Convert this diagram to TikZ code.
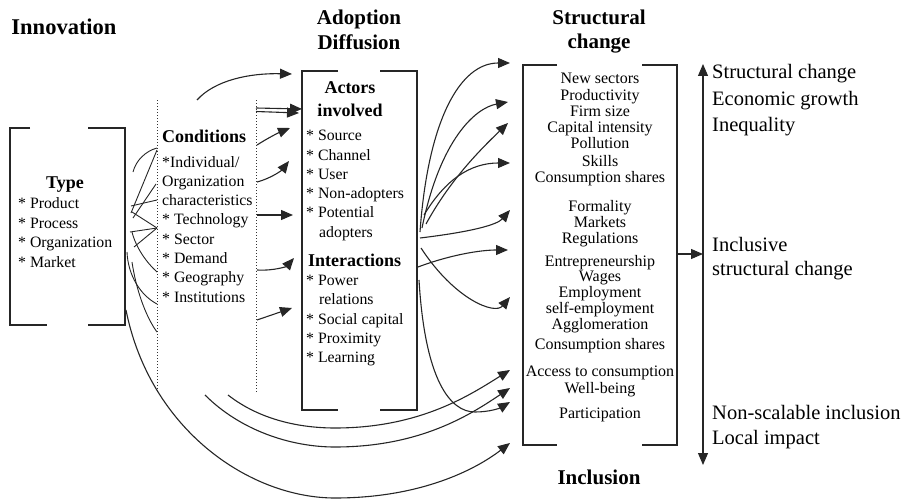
\documentclass[tikz,border=0pt]{standalone}
\usepackage{fontspec}
\setmainfont{Liberation Serif}
\usetikzlibrary{arrows.meta}
\begin{document}
\begin{tikzpicture}[x=1pt,y=-1pt,
  ink/.style={draw=black!85, line width=1.1pt},
  conn/.style={ink, -{Triangle[length=12pt,width=10pt]}},
  link/.style={draw=black!85, line width=0.9pt},
  guide/.style={draw=black!80, line width=1pt, dotted},
  head/.style={font=\fontsize{21}{24}\selectfont\bfseries, anchor=base, inner sep=0},
  sub/.style={font=\fontsize{18}{21}\selectfont\bfseries, inner sep=0},
  item/.style={font=\fontsize{15.8}{19}\selectfont, anchor=base west, inner sep=0},
  metric/.style={font=\fontsize{16}{16}\selectfont, anchor=base, inner sep=0},
  outcome/.style={font=\fontsize{20.5}{24}\selectfont, anchor=base west, inner sep=0},
]
\useasboundingbox (0,0) rectangle (908,503);

% ---------- column headings ----------
\node[head, font=\fontsize{22.5}{26}\selectfont\bfseries] (hInnov) at (64,35) {Innovation};
\node[head] (hAdopt) at (359,25) {Adoption};
\node[head] (hDiff)  at (359,50) {Diffusion};
\node[head] (hStruct) at (599,25) {Structural};
\node[head] (hChange) at (599,49) {change};
\node[head] (hIncl) at (599,484) {Inclusion};

% ---------- innovation type (bracket box) ----------
\draw[ink] (30,128) -- (10,128) -- (10,325) -- (47,325);
\draw[ink] (88,128) -- (125,128) -- (125,325) -- (88,325);
\node[sub, anchor=base] (tType) at (65,188) {Type};
\node[item] (ty1) at (18,208) {* Product};
\node[item] (ty2) at (18,228) {* Process};
\node[item] (ty3) at (18,247) {* Organization};
\node[item] (ty4) at (18,267) {* Market};

% ---------- conditions (dotted guides) ----------
\draw[guide] (157,100) -- (157,393);
\draw[guide] (256,100) -- (256,393);
\node[sub, anchor=base west] (tCond) at (162,142) {Conditions};
\node[item] (co1) at (162,167)   {*Individual/};
\node[item] (co2) at (162,186.3) {Organization};
\node[item] (co3) at (162,205.6) {characteristics};
\node[item] (co4) at (162,224.9) {* Technology};
\node[item] (co5) at (162,244.2) {* Sector};
\node[item] (co6) at (162,263.5) {* Demand};
\node[item] (co7) at (162,282.8) {* Geography};
\node[item] (co8) at (162,302.1) {* Institutions};

% ---------- adoption / diffusion box ----------
\draw[ink] (338,71) -- (302,71) -- (302,410) -- (338,410);
\draw[ink] (380,71) -- (417,71) -- (417,410) -- (380,410);
\node[sub, anchor=base] (tAct) at (350,94) {Actors};
\node[sub, anchor=base] (tInv) at (350,117) {involved};
\node[item] (ad1) at (306,140) {* Source};
\node[item] (ad2) at (306,160) {* Channel};
\node[item] (ad3) at (306,179) {* User};
\node[item] (ad4) at (306,198) {* Non-adopters};
\node[item] (ad5) at (306,217) {* Potential};
\node[item] (ad6) at (319,237) {adopters};
\node[sub, anchor=base west] (tInt) at (308,266) {Interactions};
\node[item] (in1) at (306,285) {* Power};
\node[item] (in2) at (319,304) {relations};
\node[item] (in3) at (306,324) {* Social capital};
\node[item] (in4) at (306,343) {* Proximity};
\node[item] (in5) at (306,362) {* Learning};

% ---------- structural change box ----------
\draw[ink] (557,65) -- (523,65) -- (523,445) -- (557,445);
\draw[ink] (642,65) -- (677,65) -- (677,445) -- (642,445);
\foreach \t/\y in {New sectors/84, Productivity/100, Firm size/116,
  Capital intensity/132, Pollution/148, Skills/166, Consumption shares/182,
  Formality/211, Markets/227, Regulations/243, Entrepreneurship/266,
  Wages/281, Employment/297, self-employment/313, Agglomeration/329,
  Consumption shares/349, Access to consumption/376, Well-being/393,
  Participation/418}
  \node[metric] at (600,\y) {\t};

% ---------- outcome scale ----------
\coordinate (scTop) at (703,64);
\coordinate (scBot) at (703,465);
\coordinate (scMid) at (703,254);
\coordinate (boxOut) at (677,254);
\draw[ink, {Triangle[length=12pt,width=10pt]}-{Triangle[length=12pt,width=10pt]}] (scTop) -- (scBot);
\draw[conn] (boxOut) -- (scMid);
\node[outcome] (o1) at (712,79)  {Structural change};
\node[outcome] (o2) at (712,105) {Economic growth};
\node[outcome] (o3) at (712,131) {Inequality};
\node[outcome] (o4) at (712,251) {Inclusive};
\node[outcome] (o5) at (712,275) {structural change};
\node[outcome] (o6) at (712,419) {Non-scalable inclusion};
\node[outcome] (o7) at (712,444) {Local impact};

% ---------- type -> conditions links ----------
\draw[link] (133,172) .. controls (136,160) and (146,151) .. (157,148);
\draw[link] (131,213) -- (157,150);
\draw[link] (131,206) -- (157,200);
\draw[link] (133,218) -- (156,184);
\draw[link] (132,212) -- (157,228);
\draw[link] (134,247) -- (157,228);
\draw[link] (130,232) -- (157,228);
\draw[link] (132,232) .. controls (136,248) and (147,263) .. (157,272);
\draw[link] (127,252) .. controls (128,275) and (140,295) .. (157,304);
\draw[link] (132,262) .. controls (137,295) and (148,320) .. (157,332);

% ---------- conditions -> adoption ----------
\draw[conn] (197,100) .. controls (215,80) and (250,73) .. (292,74);
\draw[conn] (256,108) -- (302,109);
\draw[conn] (256,111.5) -- (299,113);
\draw[conn] (257,145) .. controls (268,138) and (278,133) .. (290,128);
\draw[conn] (257,182) .. controls (272,178) and (282,170) .. (289,161);
\draw[conn] (257,215) -- (293,215);
\draw[conn] (257,270) .. controls (275,271) and (287,266) .. (294,258);
\draw[conn] (257,320) -- (292,308);

% ---------- adoption -> structural change ----------
\draw[conn] (420,232) .. controls (428,120) and (460,63) .. (510,63);
\draw[conn] (422,228) .. controls (440,140) and (475,108) .. (508,102);
\draw[conn] (426,224) .. controls (450,180) and (480,150) .. (508,123);
\draw[conn] (424,215) .. controls (445,180) and (470,163) .. (510,163);
\draw[conn] (420,238) .. controls (470,232) and (497,225) .. (510,210);
\draw[conn] (418,267) .. controls (450,255) and (480,250) .. (508,250);
\draw[conn] (421,248) .. controls (455,300) and (495,315) .. (510,297);
\draw[conn] (419,280) .. controls (425,380) and (450,412) .. (475,412)
                      .. controls (490,412) and (500,408) .. (510,402);

% ---------- long links to inclusion ----------
\draw[conn] (228,395) .. controls (260,420) and (300,428) .. (335,428)
                      .. controls (420,428) and (470,395) .. (510,370);
\draw[conn] (205,395) .. controls (240,430) and (290,447) .. (335,447)
                      .. controls (420,447) and (470,415) .. (510,388);
\draw[conn] (126,310) .. controls (150,430) and (250,498) .. (335,498)
                      .. controls (420,498) and (475,470) .. (510,443);
\end{tikzpicture}
\end{document}
